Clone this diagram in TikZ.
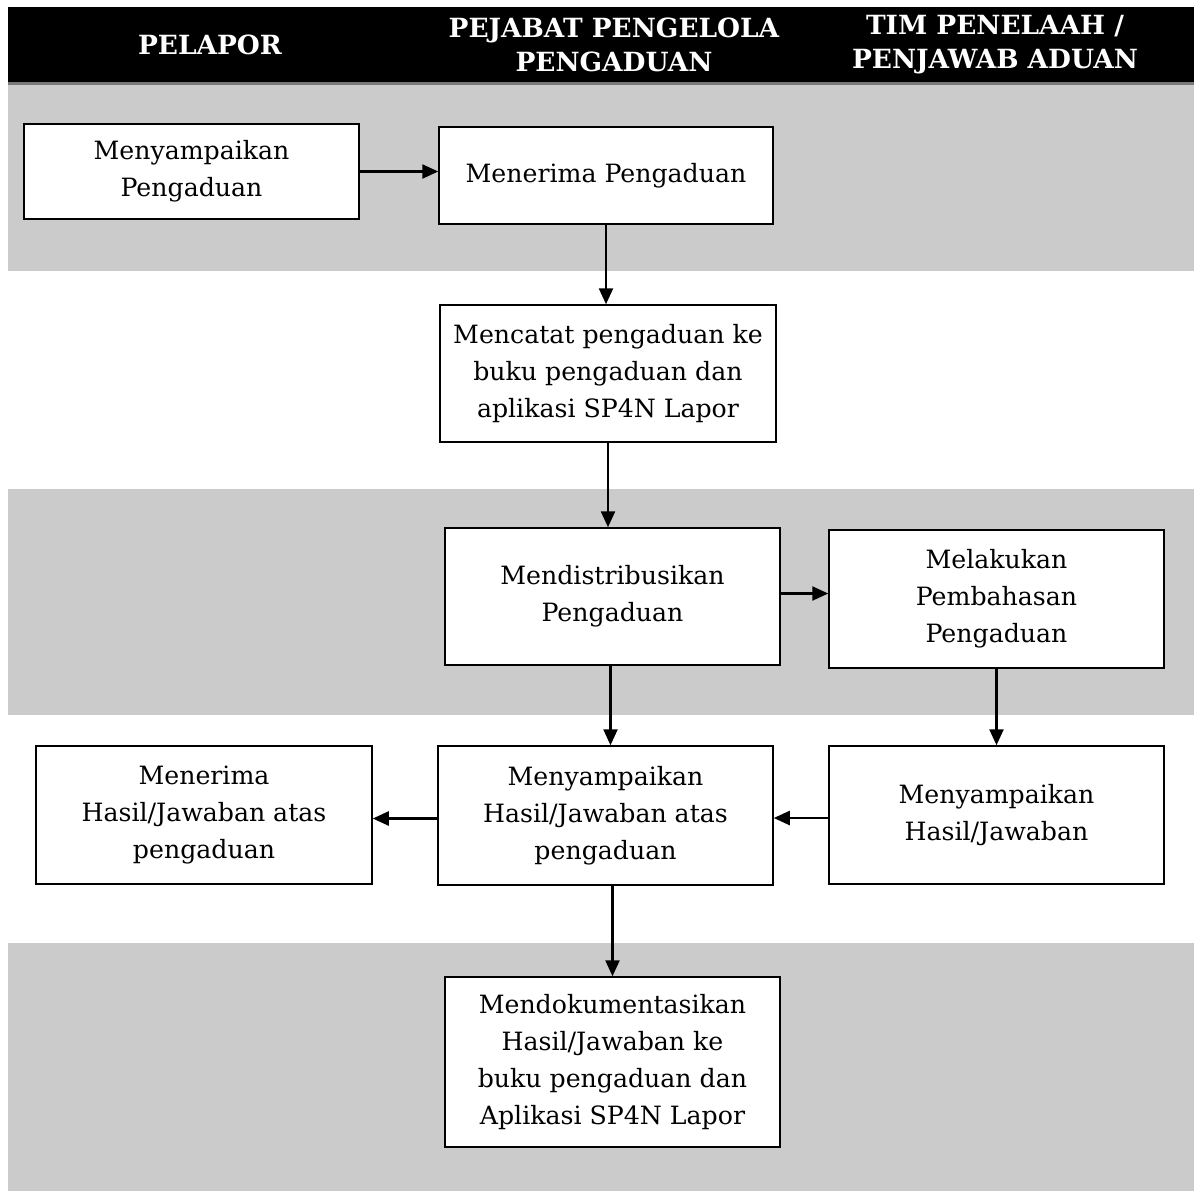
\documentclass[tikz,border=0pt]{standalone}
\usepackage{fontspec}
\setmainfont{DejaVu Serif}
\usetikzlibrary{arrows.meta}
\definecolor{bandgray}{RGB}{203,203,203}
\definecolor{linegray}{RGB}{120,120,120}
\tikzset{
  stepbox/.style={draw=black, line width=0.75pt, fill=white, align=center,
    inner sep=0pt, font=\fontsize{12.6}{18.6}\selectfont},
  headtext/.style={text=white, align=center, font=\fontsize{13.2}{17}\selectfont\bfseries},
  flow/.style={line width=1.2pt, -{Triangle[length=8pt,width=7pt]}}
}
\begin{document}
\begin{tikzpicture}[x=0.5pt,y=-0.5pt]
\useasboundingbox (0,0) rectangle (1194,1191);
% bands
\fill[bandgray] (8,85) rectangle (1194,271);
\fill[bandgray] (8,489) rectangle (1194,715);
\fill[bandgray] (8,943) rectangle (1194,1191);
% header
\fill[black] (8,7) rectangle (1194,82);
\fill[linegray] (8,82) rectangle (1194,85);
\node[headtext] (h1) at (210,45) {PELAPOR};
\node[headtext] (h2) at (614,45) {PEJABAT PENGELOLA\\PENGADUAN};
\node[headtext] (h3) at (995,45) {TIM PENELAAH /\\PENJAWAB ADUAN};
% boxes
\node[stepbox, minimum width=167.5pt, minimum height=47.5pt] (b1) at (191.5,171.5) {Menyampaikan\\Pengaduan};
\node[stepbox, minimum width=167pt, minimum height=48.5pt] (b2) at (606,175.5) {Menerima Pengaduan};
\node[stepbox, minimum width=168pt, minimum height=68.5pt] (b3) at (608,373.5) {Mencatat pengaduan ke\\buku pengaduan dan\\aplikasi SP4N Lapor};
\node[stepbox, minimum width=167.5pt, minimum height=68.5pt] (b4) at (612.5,596.5) {Mendistribusikan\\Pengaduan};
\node[stepbox, minimum width=167.5pt, minimum height=69pt] (b5) at (996.5,599) {Melakukan\\Pembahasan\\Pengaduan};
\node[stepbox, minimum width=167.5pt, minimum height=69.5pt] (b6) at (605.5,815.5) {Menyampaikan\\Hasil/Jawaban atas\\pengaduan};
\node[stepbox, minimum width=167.5pt, minimum height=69pt] (b7) at (996.5,815) {Menyampaikan\\Hasil/Jawaban};
\node[stepbox, minimum width=168pt, minimum height=69pt] (b8) at (204,815) {Menerima\\Hasil/Jawaban atas\\pengaduan};
\node[stepbox, minimum width=167.5pt, minimum height=85pt] (b9) at (612.5,1062) {Mendokumentasikan\\Hasil/Jawaban ke\\buku pengaduan dan\\Aplikasi SP4N Lapor};
% connectors
\draw[flow] (b1.east) -- (b1.east -| b2.west);
\draw[flow] (b2.south) -- (b2.south |- b3.north);
\draw[flow] (b3.south) -- (b3.south |- b4.north);
\draw[flow] ([yshift=1.5pt]b4.east) -- ([yshift=1.5pt]b4.east -| b5.west);
\draw[flow] ([xshift=-1pt]b4.south) -- ([xshift=-1pt]b4.south |- b6.north);
\draw[flow] (b5.south) -- (b5.south |- b7.north);
\draw[flow] ([yshift=-1.5pt]b7.west) -- ([yshift=-1.5pt]b7.west -| b6.east);
\draw[flow] ([yshift=-1.5pt]b6.west) -- ([yshift=-1.5pt]b6.west -| b8.east);
\draw[flow] (b9.north |- b6.south) -- (b9.north);
\end{tikzpicture}
\end{document}
